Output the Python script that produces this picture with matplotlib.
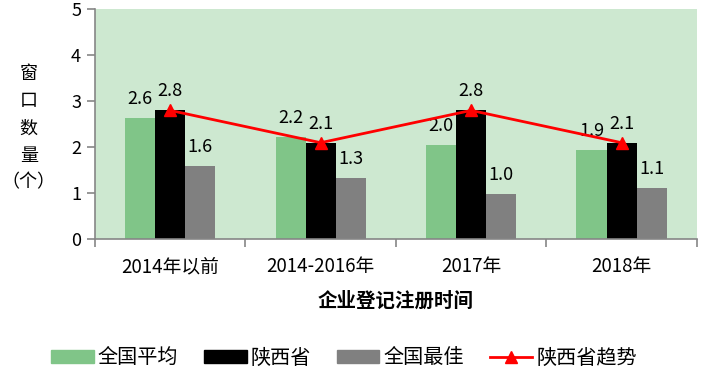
import numpy as np
import matplotlib.pyplot as plt
from matplotlib.lines import Line2D
from matplotlib.patches import Patch

plt.rcParams['font.family'] = ['Noto Sans CJK SC', 'DejaVu Sans']

# 数据
categories = ['2014年以前', '2014-2016年', '2017年', '2018年']
national_avg = [2.64, 2.22, 2.04, 1.95]
shaanxi = [2.8, 2.1, 2.8, 2.1]
national_best = [1.6, 1.33, 0.98, 1.12]
series_names = ['全国平均', '陕西省', '全国最佳', '陕西省趋势']

green = '#80C588'
gray = '#808080'
axis_color = '#868686'

fig = plt.figure(figsize=(7.01, 3.69), dpi=100)
ax = fig.add_axes([0.1355, 0.351, 0.8585, 0.6245])
ax.set_facecolor('#CDE8D0')

x = np.arange(len(categories))
w = 0.2
b1 = ax.bar(x - w, national_avg, w, color=green)
b2 = ax.bar(x, shaanxi, w, color='black')
b3 = ax.bar(x + w, national_best, w, color=gray)
ax.plot(x, shaanxi, color='red', lw=2, marker='^', markersize=9, zorder=5)

# 数据标签
for bars, vals in [(b1, national_avg), (b2, shaanxi), (b3, national_best)]:
    for rect, v in zip(bars, vals):
        ax.annotate(f'{v:.1f}', (rect.get_x() + rect.get_width() / 2, v),
                    xytext=(0, 19), textcoords='offset pixels',
                    ha='center', va='center', fontsize=13)

ax.set_xlim(-0.5, len(categories) - 0.5)
ax.set_ylim(0, 5)
ax.set_yticks(range(0, 6))
ax.tick_params(axis='y', labelsize=13, color=axis_color, length=6, width=1.2, pad=4)
ax.set_xticks(x)
ax.set_xticklabels(categories, fontsize=13.5)
ax.tick_params(axis='x', length=0, pad=12)
ax.set_xticks(np.arange(-0.5, len(categories)), minor=True)
ax.tick_params(axis='x', which='minor', length=6, width=1.2, color=axis_color)

for s in ['top', 'right']:
    ax.spines[s].set_visible(False)
for s in ['left', 'bottom']:
    ax.spines[s].set_color(axis_color)
    ax.spines[s].set_linewidth(1.2)

ax.set_xlabel('企业登记注册时间', fontsize=14, fontweight='bold', labelpad=10)
fig.text(0.041, 0.652, '窗\n口\n数\n量\n（个）', ha='center', va='center',
         fontsize=13, linespacing=1.65)

handles = [Patch(color=green), Patch(color='black'), Patch(color=gray),
           Line2D([], [], color='red', lw=2, marker='^', markersize=9)]
fig.legend(handles, series_names, loc='center', bbox_to_anchor=(0.491, 0.03),
           ncol=4, frameon=False, fontsize=14.5, handlelength=2.1, handleheight=0.6,
           handletextpad=0.2, columnspacing=1.3)

fig.savefig('out.png', dpi=100)
